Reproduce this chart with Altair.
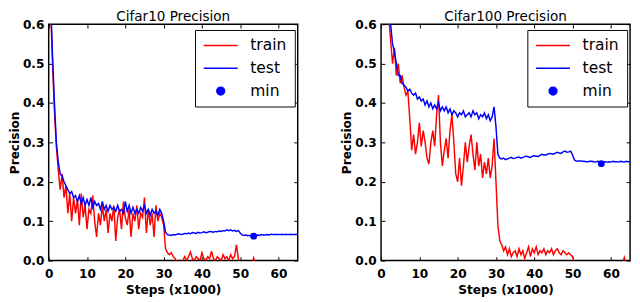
import altair as alt
import pandas as pd

# x grid of the curves (thousands of steps)
STEPS = [round(0.5 * (i + 1), 1) for i in range(130)]

C10_TRAIN = [
    0.64, 0.50, 0.38, 0.29, 0.23, 0.18, 0.22, 0.16, 0.19, 0.12,
    0.17, 0.10, 0.16, 0.12, 0.155, 0.09, 0.17, 0.11, 0.14, 0.08,
    0.13, 0.12, 0.165, 0.10, 0.06, 0.12, 0.09, 0.14, 0.10, 0.13,
    0.07, 0.12, 0.10, 0.14, 0.05, 0.11, 0.13, 0.08, 0.15, 0.11,
    0.09, 0.13, 0.06, 0.12, 0.10, 0.14, 0.08, 0.12, 0.11, 0.16,
    0.07, 0.13, 0.09, 0.12, 0.06, 0.14, 0.10, 0.12, 0.11, 0.09,
    0.03, 0.02, 0.015, 0.02, 0.01, 0.005, -0.005, 0.0, -0.01, 0.0,
    0.01, 0.0, 0.01, 0.022, 0.005, 0.0, 0.01, 0.005, 0.0, 0.02,
    0.005, 0.0, 0.01, 0.005, 0.024, 0.005, 0.0, 0.01, 0.005, 0.0,
    0.015, 0.005, 0.01, 0.0, 0.015, 0.005, 0.01, 0.04, 0.005, -0.01,
    -0.01, -0.01, -0.01, -0.01, -0.01, -0.01, 0.007, -0.01, -0.01, -0.01,
    -0.01, -0.01, -0.01, -0.01, -0.01, -0.01, -0.01, -0.01, -0.01, -0.01,
    -0.01, -0.01, -0.01, -0.01, -0.01, -0.01, -0.01, -0.01, -0.01, -0.01,
]
C10_TEST = [
    0.66, 0.52, 0.40, 0.30, 0.25, 0.22, 0.215, 0.20, 0.19, 0.18,
    0.17, 0.175, 0.16, 0.165, 0.15, 0.165, 0.145, 0.16, 0.14, 0.155,
    0.14, 0.16, 0.135, 0.15, 0.14, 0.145, 0.13, 0.15, 0.13, 0.14,
    0.125, 0.14, 0.13, 0.135, 0.125, 0.14, 0.125, 0.13, 0.12, 0.15,
    0.125, 0.14, 0.12, 0.135, 0.12, 0.13, 0.12, 0.135, 0.125, 0.14,
    0.12, 0.13, 0.115, 0.13, 0.12, 0.125, 0.115, 0.13, 0.12, 0.10,
    0.072, 0.066, 0.065, 0.064, 0.066, 0.065, 0.067, 0.068, 0.066, 0.067,
    0.069, 0.068, 0.07, 0.068, 0.071, 0.07, 0.069, 0.072, 0.07, 0.071,
    0.073, 0.071, 0.072, 0.074, 0.073, 0.072, 0.074, 0.073, 0.075, 0.074,
    0.076, 0.075, 0.078, 0.076, 0.078, 0.075, 0.077, 0.074, 0.076, 0.07,
    0.065, 0.064, 0.065, 0.063, 0.064, 0.063, 0.064, 0.063, 0.065, 0.064,
    0.066, 0.065, 0.065, 0.066, 0.065, 0.067, 0.066, 0.066, 0.067, 0.066,
    0.066, 0.067, 0.066, 0.067, 0.066, 0.067, 0.066, 0.066, 0.067, 0.066,
]
C100_TRAIN = [
    0.85, 0.75, 0.68, 0.62, 0.56, 0.50, 0.54, 0.47, 0.50, 0.45,
    0.47, 0.44, 0.42, 0.43, 0.36, 0.28, 0.32, 0.27, 0.30, 0.35,
    0.29, 0.33, 0.30, 0.26, 0.245, 0.30, 0.33, 0.29, 0.37, 0.42,
    0.30, 0.24, 0.28, 0.31, 0.26, 0.33, 0.37, 0.30, 0.22, 0.20,
    0.26, 0.19, 0.24, 0.30, 0.25, 0.29, 0.32, 0.27, 0.23, 0.30,
    0.24, 0.27, 0.21, 0.25, 0.22, 0.26, 0.21, 0.24, 0.31, 0.20,
    0.09, 0.05, 0.04, 0.025, 0.035, 0.015, 0.03, 0.01, 0.02, 0.025,
    0.01, 0.03, 0.015, 0.025, 0.005, 0.02, 0.035, 0.01, 0.03, 0.02,
    0.035, 0.015, 0.025, 0.02, 0.03, 0.015, 0.025, 0.02, 0.03, 0.015,
    0.025, 0.03, 0.02, 0.015, 0.025, 0.02, 0.015, 0.02, 0.015, 0.01,
    -0.01, -0.01, -0.01, -0.01, -0.01, -0.01, -0.01, -0.01, -0.01, -0.01,
    -0.01, -0.01, -0.01, -0.01, -0.01, -0.01, -0.01, -0.01, -0.01, -0.01,
    -0.01, -0.01, -0.01, -0.01, -0.01, -0.01, 0.008, -0.01, -0.01, -0.01,
]
C100_TEST = [
    0.85, 0.75, 0.68, 0.63, 0.60, 0.55, 0.53, 0.50, 0.47, 0.47,
    0.45, 0.445, 0.44, 0.43, 0.435, 0.425, 0.42, 0.425, 0.41, 0.415,
    0.405, 0.41, 0.395, 0.405, 0.39, 0.40, 0.385, 0.395, 0.385, 0.40,
    0.38, 0.39, 0.38, 0.39, 0.375, 0.385, 0.37, 0.38, 0.375, 0.365,
    0.375, 0.37, 0.38, 0.365, 0.37, 0.375, 0.365, 0.38, 0.37, 0.375,
    0.36, 0.37, 0.365, 0.375, 0.36, 0.37, 0.355, 0.365, 0.39, 0.34,
    0.27, 0.26, 0.258, 0.26, 0.256, 0.258, 0.26, 0.262, 0.259, 0.26,
    0.262, 0.263, 0.26, 0.262, 0.264, 0.265, 0.263, 0.262, 0.265, 0.266,
    0.265, 0.264, 0.267, 0.27, 0.268, 0.268, 0.27, 0.272, 0.271, 0.27,
    0.273, 0.275, 0.273, 0.272, 0.276, 0.278, 0.275, 0.276, 0.278, 0.268,
    0.255, 0.252, 0.253, 0.253, 0.252, 0.252, 0.251, 0.251, 0.252, 0.252,
    0.251, 0.25, 0.252, 0.251, 0.25, 0.25, 0.251, 0.25, 0.251, 0.25,
    0.252, 0.251, 0.251, 0.25, 0.252, 0.251, 0.25, 0.252, 0.251, 0.251,
]
C10_MIN = (53.5, 0.062)
C100_MIN = (57.5, 0.246)

SERIES = ["train", "test", "min"]
COLORS = ["#ff0000", "#0000ff", "#0000ff"]
X_TICKS = [0, 10, 20, 30, 40, 50, 60]
Y_TICKS = [0.0, 0.1, 0.2, 0.3, 0.4, 0.5, 0.6]

FONT = "DejaVu Sans"
W, H = 257, 244


def panel(title, train, test, min_pt):
    df = pd.DataFrame({
        "step": STEPS + STEPS,
        "value": train + test,
        "series": ["train"] * len(STEPS) + ["test"] * len(STEPS),
    })
    dmin = pd.DataFrame({"step": [min_pt[0]], "value": [min_pt[1]], "series": ["min"]})
    xs = alt.Scale(domain=[0, 65], nice=False, zero=False)
    ys = alt.Scale(domain=[0, 0.6], nice=False)
    legend = alt.Legend(
        title=None, orient="none", legendX=W - 106, legendY=6,
        strokeColor="black", fillColor="white", padding=8, cornerRadius=0,
        labelFont=FONT, labelFontSize=16, labelColor="black", labelOffset=12,
        symbolSize=1225, symbolStrokeWidth=1.5, clipHeight=16, rowPadding=7.5,
        symbolType=alt.ExprRef(expr="datum.value == 'min' ? 'M0.23,0A0.23,0.23,0,1,1,-0.23,0A0.23,0.23,0,1,1,0.23,0Z' : 'stroke'"),
        symbolFillColor=alt.ExprRef(expr="datum.value == 'min' ? '#0000ff' : 'transparent'"),
    )
    color = alt.Color("series:N", scale=alt.Scale(domain=SERIES, range=COLORS), legend=legend)

    def tick_axis(orient):
        vals = X_TICKS if orient in ("top", "bottom") else Y_TICKS
        return alt.Axis(orient=orient, values=vals, labels=False, title=None, ticks=True,
                        tickSize=4, offset=-4, domain=False, grid=False)

    x_lab = alt.Axis(orient="bottom", values=X_TICKS, format="d", title="Steps (x1000)",
                     ticks=False, domain=False, grid=False, labelPadding=7, titlePadding=4,
                     labelFlush=False, labelOverlap=False)
    y_lab = alt.Axis(orient="left", values=Y_TICKS, format=".1f", title="Precision",
                     ticks=False, domain=False, grid=False, labelPadding=5, titlePadding=1,
                     labelFlush=False, labelOverlap=False)

    train_l = alt.Chart(df).transform_filter("datum.series == 'train'").mark_line(
        strokeWidth=1.5, clip=True).encode(
        x=alt.X("step:Q", scale=xs, axis=x_lab),
        y=alt.Y("value:Q", scale=ys, axis=y_lab),
        color=color,
    )
    test_l = alt.Chart(df).transform_filter("datum.series == 'test'").mark_line(
        strokeWidth=1.5, clip=True).encode(
        x=alt.X("step:Q", scale=xs, axis=tick_axis("bottom")),
        y=alt.Y("value:Q", scale=ys, axis=tick_axis("left")),
        color=color,
    )
    pt = alt.Chart(dmin).mark_point(filled=True, color="#0000ff", size=50, opacity=1).encode(
        x=alt.X("step:Q", scale=xs, axis=tick_axis("top")),
        y=alt.Y("value:Q", scale=ys, axis=tick_axis("right")),
    )
    return alt.layer(train_l, test_l, pt).resolve_axis(x="independent", y="independent").properties(
        width=W, height=H,
        title=alt.Title(title, font=FONT, fontSize=14, fontWeight="normal", color="black",
                        offset=-6, frame="group"),
    )


chart = alt.hconcat(
    panel("Cifar10 Precision", C10_TRAIN, C10_TEST, C10_MIN),
    panel("Cifar100 Precision", C100_TRAIN, C100_TEST, C100_MIN),
    spacing=42,
).resolve_scale(color="independent").resolve_legend(color="independent").properties(
    padding={"left": 0, "top": -3, "right": 0, "bottom": 0},
).configure_view(
    stroke="black", strokeWidth=1.5,
).configure_axis(
    labelFont=FONT, labelFontSize=12.5, labelFontWeight="bold", labelColor="black",
    titleFont=FONT, titleFontSize=12.5, titleFontWeight="bold", titleColor="black",
    tickColor="black", tickWidth=1,
)

chart.save("out.html", embed_options={"renderer": "svg", "actions": False})
